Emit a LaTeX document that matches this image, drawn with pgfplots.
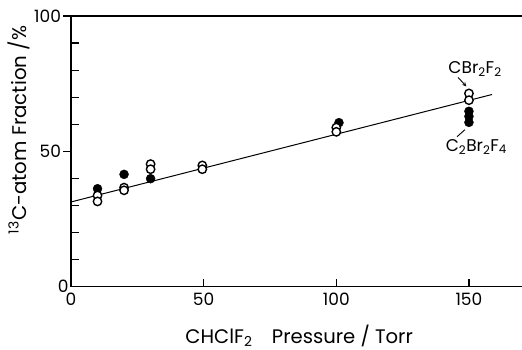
\documentclass[border=0pt]{standalone}
\usepackage{pgfplots}
\pgfplotsset{compat=1.18}
\usepackage{fontspec}
\setmainfont{Poppins}
\begin{document}
\begin{tikzpicture}
\begin{axis}[
  x=2.653pt, y=2.707pt,
  xmin=0, xmax=172, ymin=0, ymax=100,
  axis line style={line width=1.2pt},
  xtick={0,50,100,150},
  ytick={0,10,20,30,40,60,70,80,90},
  yticklabels={0,{},{},{},{},{},{},{},{}},
  extra y ticks={50,100},
  extra y tick labels={50,100},
  extra y tick style={tick align=outside},
  xtick pos=bottom, ytick pos=left,
  tick align=inside,
  major tick length=7.5pt,
  tick style={line width=1.2pt, black},
  /pgf/number format/assume math mode=true,
  tick label style={font=\fontsize{17}{19}\selectfont},
  xticklabel style={yshift=-3pt},
  yticklabel style={xshift=1pt},
  xlabel={CHClF\textsubscript{2}\quad Pressure / Torr},
  label style={font=\fontsize{19.6}{21}\selectfont},
  xlabel style={at={(axis description cs:0.5,-0.208)},anchor=base},
  clip=false,
]
\coordinate (o) at (axis cs:0,0);
\addplot[black, line width=1pt] coordinates {(0,31.3) (158.7,71)};
% C2Br2F4 (filled)
\addplot[only marks, mark=*, mark size=4.5pt, mark options={fill=black,draw=black}] coordinates {
 (10,36.2) (20,41.5) (30,39.9) (101,60.6) (150,64.8) (150,62.9) (150,60.7)
};
% CBr2F2 (open)
\addplot[only marks, mark=*, mark size=4.2pt, mark options={fill=white,draw=black,line width=1.4pt}] coordinates {
 (10,33.7) (10,31.5) (20,36.6) (20,35.6) (30,45.3) (30,43.4) (49.5,44.8) (49.5,43.4)
 (100,58.8) (100,57.2) (150,71.4) (150,68.9)
};
\node[font=\fontsize{19.8}{21}\selectfont, rotate=90, anchor=center] at (axis description cs:-0.115,0.579) {\textsuperscript{13}C-atom Fraction /\%};
\node[font=\fontsize{17}{19}\selectfont] at (axis cs:152.3,80.3) {CBr\textsubscript{2}F\textsubscript{2}};
\node[font=\fontsize{17}{19}\selectfont] at (axis cs:152.8,51.7) {C\textsubscript{2}Br\textsubscript{2}F\textsubscript{4}};
\draw[line width=0.9pt,-stealth] (axis cs:145.9,77.3) -- (axis cs:149.0,74.0);
\draw[line width=0.9pt] (axis cs:148.5,58) -- (axis cs:145.5,55.4);
\end{axis}
\pgfresetboundingbox
\path ([shift={(-71pt,-63.3pt)}]o) rectangle ([shift={(451pt,286.7pt)}]o);
\end{tikzpicture}
\end{document}
